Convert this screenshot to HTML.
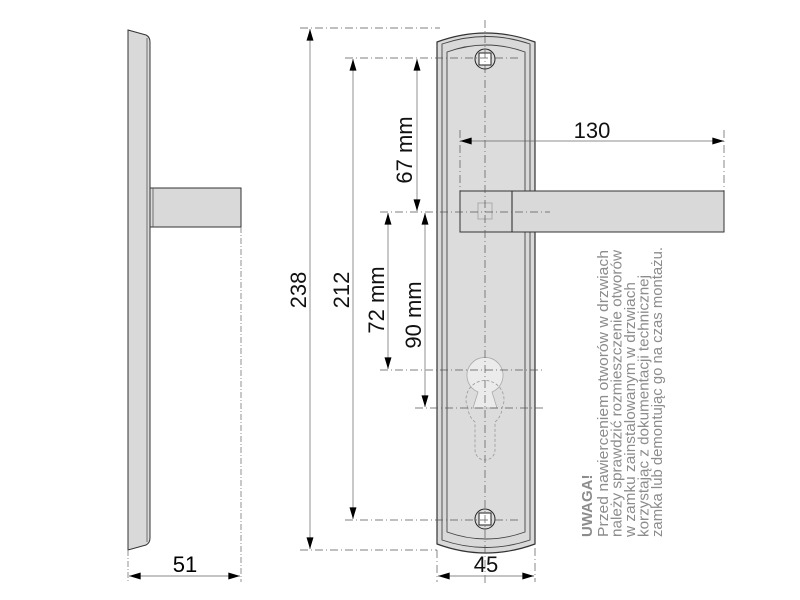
<!DOCTYPE html>
<html><head><meta charset="utf-8"><style>body{margin:0;background:#fff}svg{display:block}</style></head>
<body>
<svg width="800" height="600" viewBox="0 0 800 600" xmlns="http://www.w3.org/2000/svg" font-family="Liberation Sans, sans-serif">
<defs>
<marker id="a" viewBox="0 0 10 6" refX="10" refY="3" markerWidth="14" markerHeight="7" markerUnits="userSpaceOnUse" orient="auto-start-reverse"><path d="M0,0 L10,3 L0,6 Z" fill="#000"/></marker>
</defs>
<!-- side view -->
<path d="M128,30 L146,35 Q150,37 150,42 L150,538 Q150,543 146,545 L128,550 Z" fill="#d9d9d9" stroke="#333" stroke-width="1"/>
<line x1="147" y1="38" x2="147" y2="542" stroke="#555" stroke-width="0.8"/>
<rect x="150" y="188" width="91" height="39" fill="#d9d9d9" stroke="#333"/>
<line x1="153" y1="188" x2="153" y2="227" stroke="#555" stroke-width="0.8"/>
<g stroke="#777" stroke-dasharray="6,2,1,2" stroke-width="0.8" fill="none">
<line x1="128" y1="550" x2="128" y2="582"/>
<line x1="241" y1="227" x2="241" y2="582"/>
</g>
<line x1="129" y1="576" x2="240" y2="576" stroke="#888" marker-start="url(#a)" marker-end="url(#a)"/>
<text x="185" y="572" font-size="22" text-anchor="middle">51</text>

<!-- front plate -->
<path d="M437,42 Q486,24 535,42 L535,544 Q486,562 437,544 Z" fill="#d9d9d9" stroke="#333" stroke-width="1.2"/>
<path d="M442,44 Q486,29 530,44 L530,540 Q486,555 442,540 Z" fill="none" stroke="#444" stroke-width="0.9"/>
<path d="M447,52 Q486,38 525,52 L525,532 Q486,546 447,532 Z" fill="#dcdcdc" stroke="#444" stroke-width="0.9"/>
<!-- screw holes -->
<circle cx="485" cy="59" r="10" fill="none" stroke="#222"/>
<rect x="479" y="53" width="12" height="12" fill="#fff" stroke="#222"/>
<circle cx="485" cy="519" r="10" fill="none" stroke="#222"/>
<rect x="479" y="513" width="12" height="12" fill="#fff" stroke="#222"/>
<!-- keyhole -->
<path d="M478,392 A18,18 0 1 1 492,392 L497,408 L473,408 Z" fill="#ebebeb" stroke="#aaa" stroke-width="0.8"/>
<path d="M468,408 A19,19 0 1 1 502,408 A19,19 0 0 1 495,422 L495,450 A10,10 0 0 1 475,450 L475,422 A19,19 0 0 1 468,408 Z" fill="none" stroke="#999" stroke-dasharray="3,2" stroke-width="0.8"/>
<!-- handle -->
<rect x="460" y="191" width="264" height="41" fill="#d9d9d9" stroke="#333"/>
<line x1="512" y1="191" x2="512" y2="232" stroke="#222"/>
<rect x="478" y="203" width="14" height="16" fill="none" stroke="#aaa"/>

<!-- center & extension lines -->
<g stroke="#555" stroke-dasharray="8,3,1,3" stroke-width="0.7" fill="none">
<line x1="485" y1="20" x2="485" y2="585"/>
<line x1="300" y1="28" x2="440" y2="28"/>
<line x1="345" y1="58" x2="518" y2="58"/>
<line x1="380" y1="212" x2="550" y2="212"/>
<line x1="380" y1="370" x2="545" y2="370"/>
<line x1="415" y1="408" x2="545" y2="408"/>
<line x1="345" y1="520" x2="518" y2="520"/>
<line x1="300" y1="550" x2="437" y2="550"/>
<line x1="460" y1="130" x2="460" y2="191"/>
<line x1="724" y1="130" x2="724" y2="191"/>
<line x1="437" y1="550" x2="437" y2="582"/>
<line x1="535" y1="548" x2="535" y2="582"/>
</g>
<!-- dimension lines -->
<g stroke="#aaa" stroke-width="1.3" fill="none">
<line x1="310" y1="29" x2="310" y2="549" marker-start="url(#a)" marker-end="url(#a)"/>
<line x1="353" y1="59" x2="353" y2="519" marker-start="url(#a)" marker-end="url(#a)"/>
<line x1="417" y1="59" x2="417" y2="211" marker-start="url(#a)" marker-end="url(#a)"/>
<line x1="388" y1="213" x2="388" y2="369" marker-start="url(#a)" marker-end="url(#a)"/>
<line x1="425" y1="213" x2="425" y2="407" marker-start="url(#a)" marker-end="url(#a)"/>
</g>
<line x1="460" y1="141" x2="724" y2="141" stroke="#666" stroke-width="0.8" marker-start="url(#a)" marker-end="url(#a)"/>
<line x1="438" y1="576" x2="534" y2="576" stroke="#888" marker-start="url(#a)" marker-end="url(#a)"/>
<g font-size="22" fill="#111" text-anchor="middle">
<text x="592" y="138">130</text>
<text x="486" y="572">45</text>
<text transform="translate(306,290) rotate(-90)">238</text>
<text transform="translate(349,290) rotate(-90)">212</text>
<text transform="translate(412,150) rotate(-90)">67 mm</text>
<text transform="translate(384,300) rotate(-90)">72 mm</text>
<text transform="translate(421,315) rotate(-90)">90 mm</text>
</g>
<!-- note -->
<g fill="#8c8c8c" font-size="15">
<text transform="translate(592,537) rotate(-90)" font-weight="bold">UWAGA!</text>
<text transform="translate(608,537) rotate(-90)" textLength="287" lengthAdjust="spacingAndGlyphs">Przed nawierceniem otworów w drzwiach</text>
<text transform="translate(621.5,537) rotate(-90)" textLength="287" lengthAdjust="spacingAndGlyphs">należy sprawdzić rozmieszczenie otworów</text>
<text transform="translate(635,537) rotate(-90)" textLength="255" lengthAdjust="spacingAndGlyphs">w zamku zainstalowanym w drzwiach</text>
<text transform="translate(648.5,537) rotate(-90)" textLength="262" lengthAdjust="spacingAndGlyphs">korzystając z dokumentacji technicznej</text>
<text transform="translate(662,537) rotate(-90)" textLength="290" lengthAdjust="spacingAndGlyphs">zamka lub demontując go na czas montażu.</text>
</g>
</svg>
</body></html>
